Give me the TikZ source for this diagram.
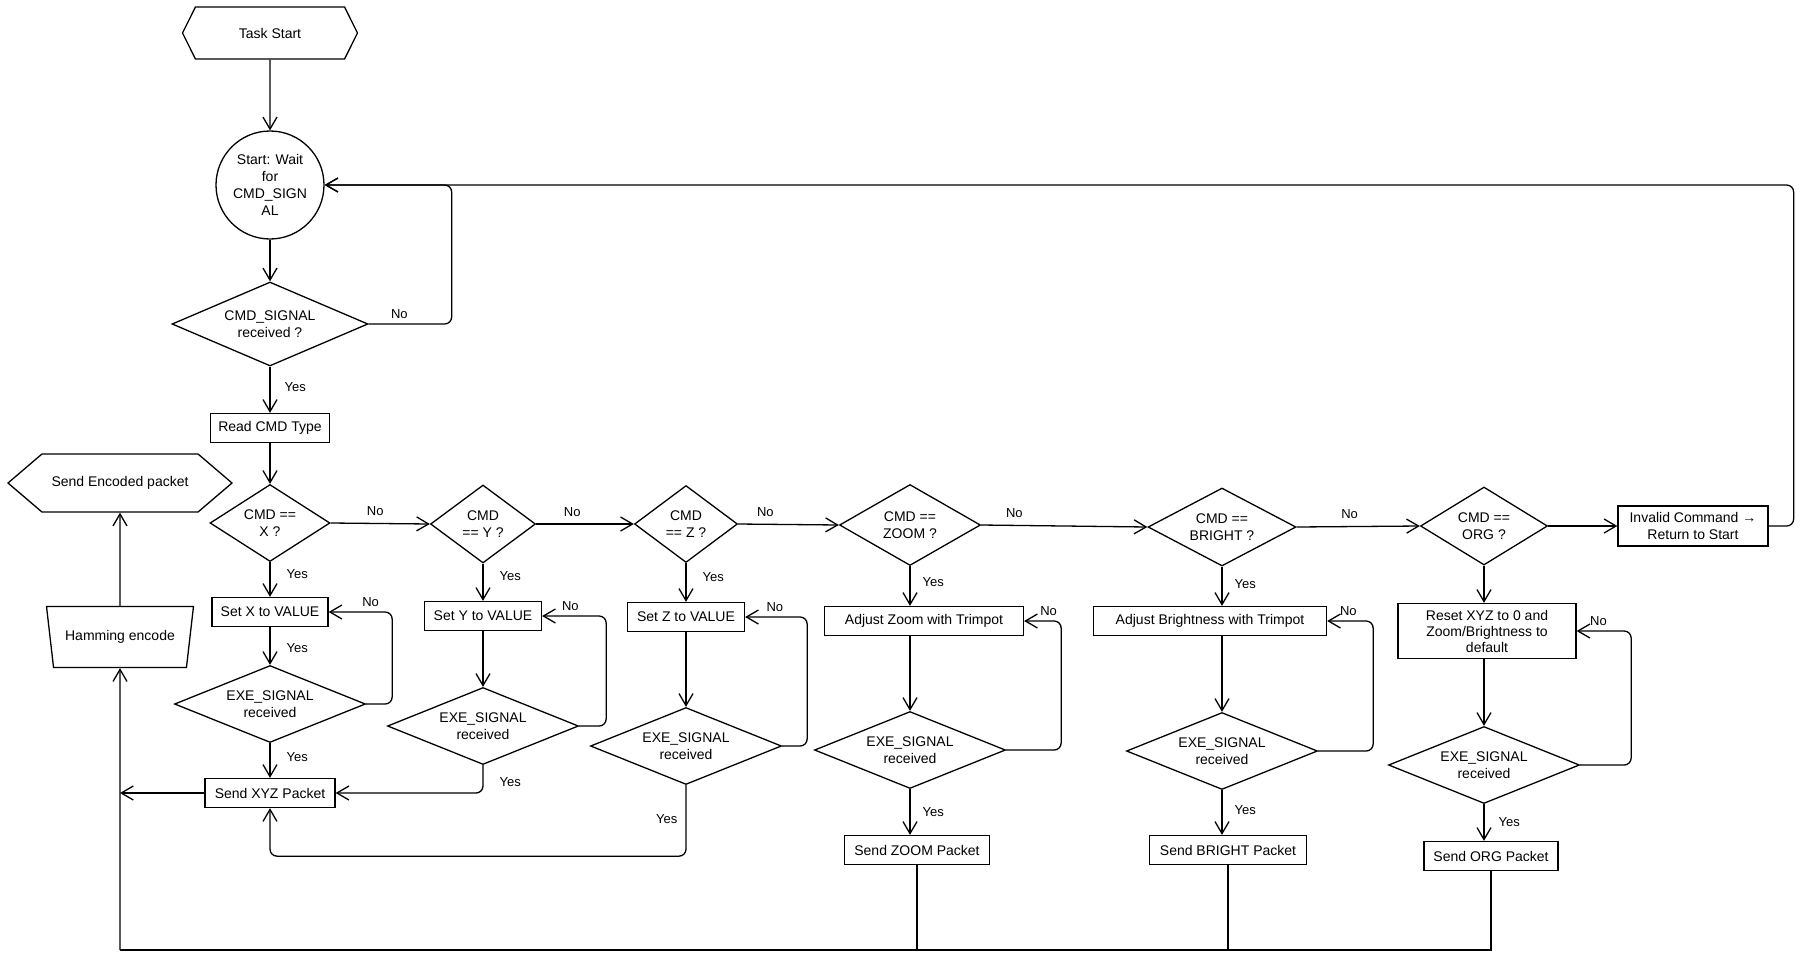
\documentclass[tikz,border=0pt]{standalone}
\usepackage{fontspec}
\setmainfont{Liberation Sans}
\usetikzlibrary{shapes.geometric, shapes.symbols, arrows.meta}

\begin{document}
\begin{tikzpicture}[
    x=1pt, y=-1pt,
    line width=1.3pt,
    font=\fontsize{14}{17}\selectfont,
    box/.style={draw, rectangle, inner xsep=7pt, inner ysep=5pt, minimum height=29pt, align=center},
    hexbox/.style={draw, signal, signal to=west and east, inner sep=0pt},
    decision/.style 2 args={draw, diamond, inner sep=0pt, align=center,
        minimum width=#1pt, minimum height=#2pt,
        /utils/exec={\pgfmathsetmacro\dasp{#1/#2}}, aspect=\dasp},
    flow/.style={-{Straight Barb[length=12pt, width=14pt]}, rounded corners=7pt},
    wire/.style={rounded corners=7pt},
    lbl/.style={font=\fontsize{13}{15}\selectfont, inner sep=2pt}
]
\useasboundingbox (0,0) rectangle (1800,962);

% Column positions
\def\colX{270}
\def\colY{483}
\def\colZ{686}
\def\colZoom{910}
\def\colBright{1222}
\def\colOrg{1484}

% Start of the task
\node[hexbox, signal pointer angle=127, minimum width=175pt, minimum height=52pt] (start) at (\colX,33) {Task Start};
\node[draw, circle, inner sep=0pt, minimum size=108pt, align=center] (wait) at (\colX,185) {Start: Wait\\for\\CMD\_SIGN\\AL};
\node[decision={196}{84}] (recv) at (\colX,324) {CMD\_SIGNAL\\received ?};
\node[box, minimum width=119pt] (read) at (\colX,428) {Read CMD Type};

% Command checks
\node[decision={120}{77}] (cx) at (\colX,523) {CMD ==\\X ?};
\node[decision={105}{78}] (cy) at (\colY,524) {CMD\\== Y ?};
\node[decision={103}{77}] (cz) at (\colZ,524) {CMD\\== Z ?};
\node[decision={141}{81}] (czoom) at (\colZoom,525) {CMD ==\\ZOOM ?};
\node[decision={148}{78}] (cbright) at (\colBright,527) {CMD ==\\BRIGHT ?};
\node[decision={127}{78}] (corg) at (\colOrg,526) {CMD ==\\ORG ?};
\node[box, minimum width=150pt, minimum height=40pt, inner ysep=3pt] (invalid) at (1693,526) {Invalid Command →\\Return to Start};

% Actions
\node[box, minimum width=116pt] (setx) at (\colX,612) {Set X to VALUE};
\node[box, minimum width=117pt] (sety) at (\colY,616) {Set Y to VALUE};
\node[box, minimum width=117pt] (setz) at (\colZ,617) {Set Z to VALUE};
\node[box, minimum width=199pt] (adjzoom) at (924,621) {Adjust Zoom with Trimpot};
\node[box, minimum width=233pt] (adjbright) at (1210,621) {Adjust Brightness with Trimpot};
\node[box, minimum width=178pt, minimum height=55pt, inner ysep=3pt, font=\fontsize{14}{16}\selectfont] (reset) at (1487,631) {Reset XYZ to 0 and\\Zoom/Brightness to\\default};

% Wait for EXE_SIGNAL
\foreach \n/\x/\y in {ex/\colX/704, ey/\colY/726, ez/\colZ/746, ezoom/\colZoom/750, ebright/\colBright/751, eorg/\colOrg/765}
    \node[decision={191}{77}] (\n) at (\x,\y) {EXE\_SIGNAL\\received};

% Packets
\node[box, minimum width=130pt] (sxyz) at (\colX,793) {Send XYZ Packet};
\node[box, minimum width=145pt] (szoom) at (917,850) {Send ZOOM Packet};
\node[box, minimum width=157pt] (sbright) at (1228,850) {Send BRIGHT Packet};
\node[box, minimum width=134pt] (sorg) at (1491,856) {Send ORG Packet};

% Encoder
\node[hexbox, signal pointer angle=81, minimum width=224pt, minimum height=58pt] (encpkt) at (120,483) {Send Encoded packet};
\node[draw, trapezium, trapezium left angle=114, trapezium right angle=114, trapezium stretches=true,
      minimum width=147pt, minimum height=61pt, inner sep=0pt] (hamming) at (120,637) {Hamming encode};

% Main path
\draw[flow] (start) -- (wait);
\draw[flow] (wait) -- (recv);
\draw[flow] (recv) -- node[lbl, right=12pt, pos=0.45] {Yes} (read);
\draw[flow] (recv.east) -- node[lbl, above=3pt, pos=0.37] {No} ++(83,0) |- (wait.east);
\draw[flow] (read) -- (cx);

% Chain of "No" branches
\foreach \a/\b/\p in {cx/cy/0.45, cy/cz/0.37, cz/czoom/0.27, czoom/cbright/0.2, cbright/corg/0.43}
    \draw[flow] (\a.east) -- node[lbl, above=5pt, pos=\p] {No} (\b.west);
\draw[flow] (corg.east) -- (invalid.west);
\draw[flow] (invalid.east) -- ++(25,0) |- (wait.east);

% "Yes" branches
\draw[flow] (cx) -- node[lbl, right=14pt, pos=0.35] {Yes} (setx);
\draw[flow] (setx) -- node[lbl, right=14pt, pos=0.55] {Yes} (ex);
\draw[flow] (ex) -- node[lbl, right=14pt, pos=0.4] {Yes} (sxyz);
\draw[flow] (cy) -- node[lbl, right=14pt, pos=0.33] {Yes} (sety);
\draw[flow] (sety) -- (ey);
\draw[flow] (ey.south) |- node[lbl, right=14pt, pos=0.3] {Yes} (sxyz.east);
\draw[flow] (cz) -- node[lbl, right=14pt, pos=0.35] {Yes} (setz);
\draw[flow] (setz) -- (ez);
\draw[flow] (ez.south) -- node[lbl, left=6pt, pos=0.48] {Yes} ++(0,71) -| (sxyz.south);
\draw[flow] (czoom) -- node[lbl, right=10pt, pos=0.4] {Yes} (czoom |- adjzoom.north);
\draw[flow] (czoom |- adjzoom.south) -- (ezoom);
\draw[flow] (ezoom) -- node[lbl, right=10pt, pos=0.5] {Yes} (ezoom |- szoom.north);
\draw[flow] (cbright) -- node[lbl, right=10pt, pos=0.45] {Yes} (cbright |- adjbright.north);
\draw[flow] (cbright |- adjbright.south) -- (ebright);
\draw[flow] (ebright) -- node[lbl, right=10pt, pos=0.45] {Yes} (ebright |- sbright.north);
\draw[flow] (corg) -- (corg |- reset.north);
\draw[flow] (corg |- reset.south) -- (eorg);
\draw[flow] (eorg) -- node[lbl, right=12pt, pos=0.5] {Yes} (eorg |- sorg.north);

% Loops back while EXE_SIGNAL is missing
\foreach \e/\s/\d/\p in {ex/setx/26/0.67, ey/sety/27/0.78, ez/setz/25/0.76, ezoom/adjzoom/55/0.67, ebright/adjbright/55/0.77, eorg/reset/51/0.8}
    \draw[flow] (\e.east) -- ++(\d,0) |- node[lbl, above=3pt, pos=\p] {No} (\s.east);

% Packets go back to the encoder
\coordinate (busL) at (120,950);
\draw (sorg.south) |- (busL);
\draw[flow] (busL) -- (hamming.south);
\foreach \s in {szoom, sbright}
    \draw (\s.south) -- (\s.south |- busL);
\draw[flow] (sxyz.west) -- (sxyz.west -| busL);
\draw[flow] (hamming.north) -- (encpkt.south);

\end{tikzpicture}
\end{document}
